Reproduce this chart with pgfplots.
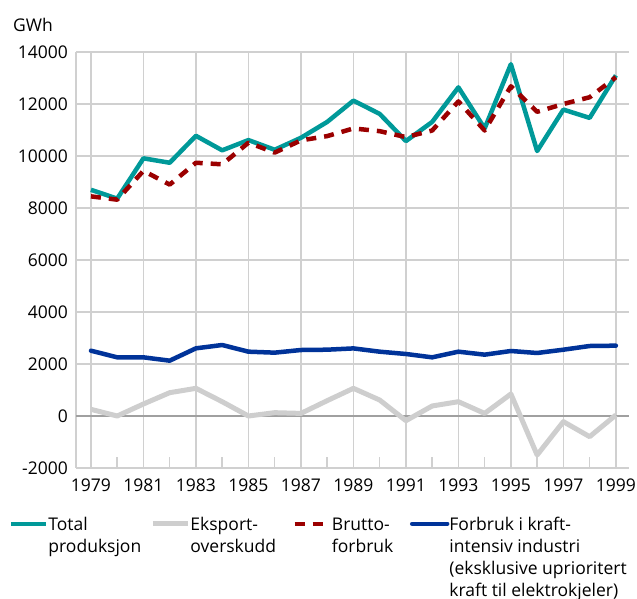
\documentclass[border=0pt]{standalone}
\usepackage{fontspec}
\setmainfont{Open Sans}
\usepackage{pgfplots}
\usepackage{pgfplotstable}
\pgfplotsset{compat=1.18}
\definecolor{cteal}{RGB}{0,153,153}
\definecolor{cgrey}{RGB}{206,206,206}
\definecolor{cred}{RGB}{155,0,0}
\definecolor{cblue}{RGB}{0,51,153}
\definecolor{gridgrey}{RGB}{208,208,208}
\definecolor{zerogrey}{RGB}{160,160,160}

\pgfplotstableread{
year total eksport brutto forbruk
1979 8700 256 8447 2512
1980 8360 0 8320 2256
1981 9910 462 9430 2256
1982 9740 897 8900 2128
1983 10776 1064 9740 2603
1984 10218 550 9680 2730
1985 10612 0 10510 2474
1986 10240 128 10130 2436
1987 10700 100 10600 2538
1988 11310 590 10765 2550
1989 12130 1064 11060 2600
1990 11620 615 10955 2474
1991 10574 -180 10727 2385
1992 11310 385 10980 2256
1993 12640 550 12100 2474
1994 11060 100 10980 2359
1995 13530 846 12680 2500
1996 10190 -1500 11700 2423
1997 11785 -218 12000 2550
1998 11465 -795 12260 2692
1999 13100 38 13030 2705
}\datatable

\begin{document}
\begin{tikzpicture}[font=\fontsize{17.5bp}{22bp}\selectfont]
\begin{axis}[
  at={(76bp,131bp)}, anchor=south west,
  scale only axis, width=553bp, height=416bp,
  xmin=1978.43, xmax=1999.5, ymin=-2000, ymax=14000,
  clip mode=individual,
  scaled y ticks=false, scaled x ticks=false,
  axis x line*=bottom, axis y line*=left,
  axis line style={draw=gridgrey, line width=1.6bp, -},
  xtick={1979,1981,1983,1985,1987,1989,1991,1993,1995,1997,1999},
  minor xtick={1980,1982,1984,1986,1988,1990,1992,1994,1996,1998},
  ytick={-2000,2000,4000,6000,8000,10000,12000,14000},
  extra y ticks={0},
  extra y tick style={grid style={draw=zerogrey, line width=1.2bp}},
  xmajorgrids=true, ymajorgrids=true,
  grid style={draw=gridgrey, line width=1.6bp},
  major tick length=0pt, minor tick length=11bp, tick align=inside,
  minor tick style={draw=gridgrey, line width=1.6bp},
  /pgf/number format/assume math mode=true,
  /pgf/number format/1000 sep={},
  xticklabel style={inner sep=0pt, anchor=north, yshift=-11bp},
  yticklabel style={inner sep=0pt, anchor=east, xshift=-8bp},
  legend columns=4,
  legend style={at={(-0.1216,-0.117)}, anchor=north west, draw=none, fill=none,
    inner sep=0pt, column sep=0pt, cells={anchor=base west}, nodes={inner sep=0pt},
    /tikz/every even column/.append style={column sep=5bp}},
  legend image code/.code={\draw[#1] (0bp,6.5bp) -- (35bp,6.5bp);},
  every axis plot/.append style={line join=round},
]
\addplot[cteal, line width=4.5bp] table[x=year, y=total] {\datatable};
\addlegendentry{\parbox[t]{97bp}{\raggedright Total\\produksjon}}
\addplot[cgrey, line width=5bp] table[x=year, y=eksport] {\datatable};
\addlegendentry{\parbox[t]{97bp}{\raggedright Eksport-\\overskudd}}
\addplot[cred, line width=4.5bp, dash pattern=on 10bp off 8bp] table[x=year, y=brutto] {\datatable};
\addlegendentry{\parbox[t]{73bp}{\raggedright Brutto-\\forbruk}}
\addplot[cblue, line width=4.5bp, line cap=round] table[x=year, y=forbruk] {\datatable};
\addlegendentry{\parbox[t]{200bp}{\raggedright Forbruk i kraft-\\intensiv industri\\(eksklusive uprioritert\\kraft til elektrokjeler)}}
\node[anchor=base west, inner sep=0pt, xshift=-63bp, yshift=20bp] at (rel axis cs:0,1) {GWh};
\end{axis}
\pgfresetboundingbox
\path (0,0) rectangle (637bp,599bp);
\end{tikzpicture}
\end{document}
